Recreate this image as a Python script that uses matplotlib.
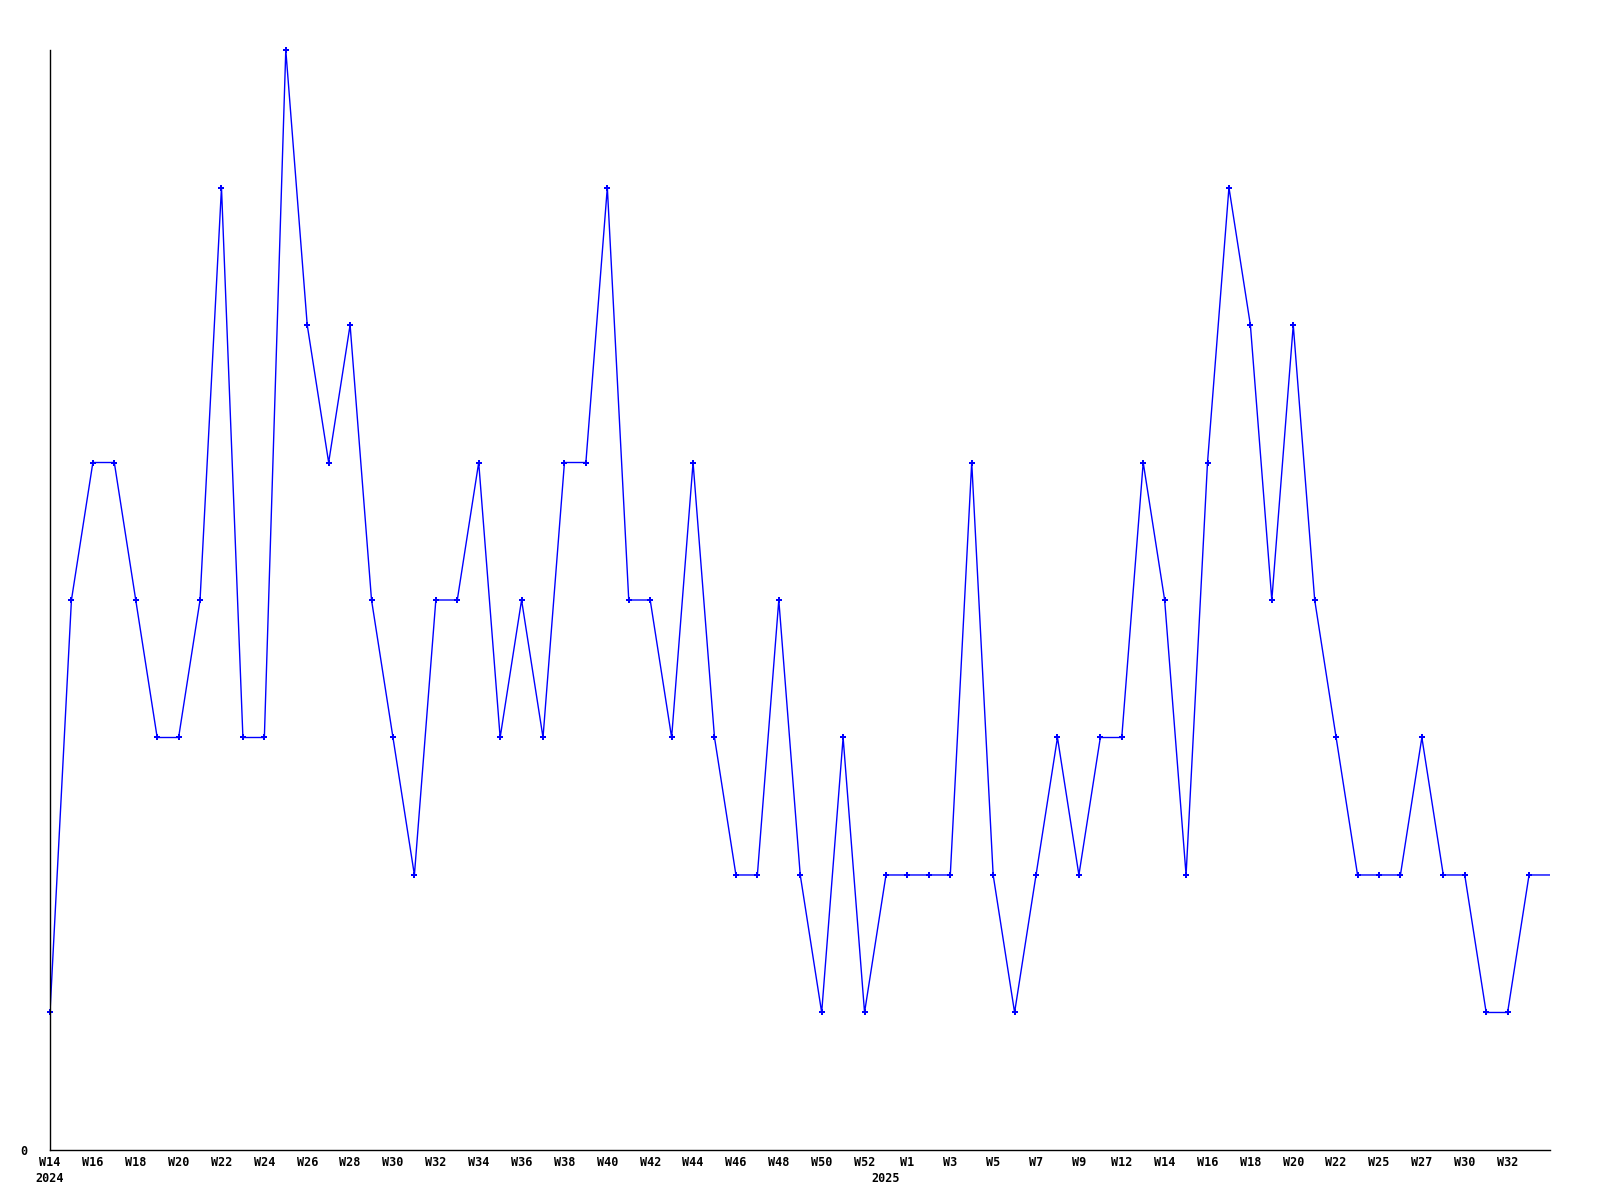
import matplotlib
matplotlib.use("Agg")
import matplotlib.pyplot as plt
import matplotlib.transforms as mtransforms

# weekly counts, W14 2024 onwards (last value carried to the edge)
values = [1, 4, 5, 5, 4, 3, 3, 4, 7, 3,
          3, 8, 6, 5, 6, 4, 3, 2, 4, 4,
          5, 3, 4, 3, 5, 5, 7, 4, 4, 3,
          5, 3, 2, 2, 4, 2, 1, 3, 1, 2,
          2, 2, 2, 5, 2, 1, 2, 3, 2, 3,
          3, 5, 4, 2, 5, 7, 6, 4, 6, 4,
          3, 2, 2, 2, 3, 2, 2, 1, 1, 2]

week_labels = ['W14', 'W16', 'W18', 'W20', 'W22', 'W24', 'W26', 'W28', 'W30', 'W32',
               'W34', 'W36', 'W38', 'W40', 'W42', 'W44', 'W46', 'W48', 'W50', 'W52',
               'W1', 'W3', 'W5', 'W7', 'W9', 'W12', 'W14', 'W16', 'W18', 'W20',
               'W22', 'W25', 'W27', 'W30', 'W32']
year_labels = ['2024', '2025']
year_pos = [0, 39]

font = dict(family='DejaVu Sans Mono', weight='bold', size=8.5)

fig = plt.figure(figsize=(16, 12), dpi=100)
ax = fig.add_axes([0.03125, 0.0417, 0.9378, 0.9166])

x = list(range(len(values)))
# line runs on to the right edge with the last value
ax.plot(x + [len(values)], values + [values[-1]], color='#0000ff', linewidth=1)
ax.plot(x, values, linestyle='none', marker='P', markersize=4.5,
        color='#0000ff', markeredgewidth=0, clip_on=False)

ax.set_xlim(0, len(values))
ax.set_ylim(0, 8)

ax.spines['top'].set_visible(False)
ax.spines['right'].set_visible(False)
ax.spines['left'].set_linewidth(1)
ax.spines['bottom'].set_linewidth(1)

ax.set_xticks(range(0, 2 * len(week_labels), 2))
ax.set_xticklabels(week_labels, fontdict=font)
ax.set_yticks([0])
ax.set_yticklabels(['0'], fontdict=font)
ax.tick_params(length=0, pad=4)
ax.tick_params(axis='y', pad=16)

trans = mtransforms.blended_transform_factory(ax.transData, ax.transAxes)
for lab, pos in zip(year_labels, year_pos):
    ax.text(pos, -0.02, lab, transform=trans, ha='center', va='top', **font)

fig.savefig('out.png', dpi=100)
